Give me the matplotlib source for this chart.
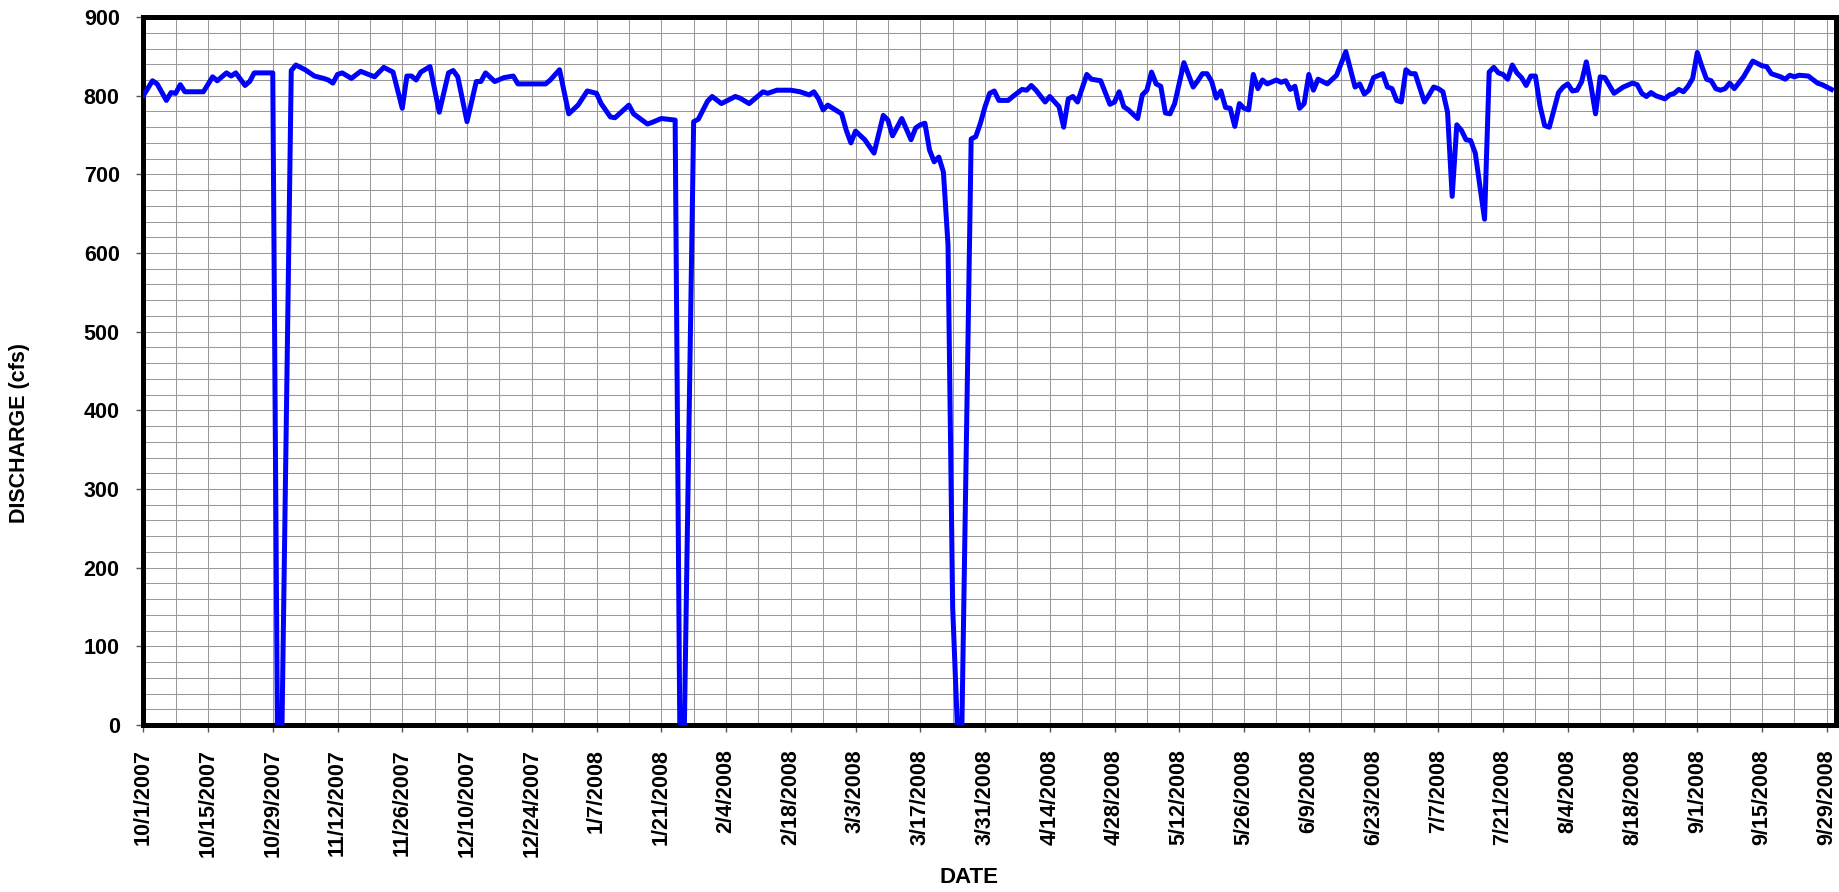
import numpy as np
import pandas as pd
import matplotlib
matplotlib.use("Agg")
import matplotlib.pyplot as plt
import matplotlib.dates as mdates
from matplotlib.ticker import MultipleLocator, FixedLocator

plt.rcParams['font.family'] = ['Liberation Sans', 'DejaVu Sans']

# daily discharge (days since 10/1/2007, cfs)
day_offset = [
    0, 2, 3, 5, 6, 7, 8, 9, 13, 15, 16, 18, 19, 20, 22, 23, 24, 28, 29, 30,
    32, 33, 35, 37, 39, 40, 41, 42, 43, 45, 47, 50, 52, 54, 56, 57, 58, 59, 60, 62,
    64, 66, 67, 68, 70, 72, 73, 74, 76, 78, 80, 81, 87, 88, 90, 92, 94, 96, 98, 99,
    101, 102, 105, 106, 109, 110, 112, 115, 116, 117, 119, 120, 122, 123, 125, 128, 129, 131, 134, 135,
    137, 140, 142, 144, 145, 146, 147, 148, 151, 152, 153, 154, 156, 158, 160, 161, 162, 164, 166, 167,
    168, 169, 170, 171, 172, 173, 174, 175, 176, 177, 179, 180, 181, 182, 183, 184, 185, 187, 188, 190,
    191, 192, 193, 195, 196, 198, 199, 200, 201, 202, 204, 205, 207, 209, 210, 211, 212, 213, 215, 216,
    217, 218, 219, 220, 221, 222, 223, 225, 227, 228, 229, 230, 231, 232, 233, 234, 235, 236, 237, 238,
    239, 240, 241, 242, 243, 245, 246, 247, 248, 249, 250, 251, 252, 253, 254, 256, 258, 260, 262, 263,
    264, 265, 266, 268, 269, 270, 271, 272, 273, 274, 275, 277, 278, 279, 280, 281, 282, 283, 284, 285,
    286, 287, 288, 290, 291, 292, 293, 294, 295, 296, 297, 298, 299, 300, 301, 302, 303, 304, 306, 307,
    308, 309, 310, 311, 312, 313, 314, 315, 316, 318, 319, 320, 322, 323, 324, 325, 326, 327, 329, 330,
    331, 332, 333, 334, 335, 336, 337, 338, 339, 340, 341, 342, 343, 344, 346, 348, 350, 351, 352, 354,
    355, 356, 357, 358, 360, 362, 363, 365,
]
discharge = [
    800, 819, 815, 794, 804, 803, 814, 805, 805, 824, 819, 829, 825, 829, 813, 818, 829, 829, 0, 0,
    832, 839, 833, 825, 822, 820, 816, 827, 829, 822, 831, 824, 836, 830, 784, 825, 825, 820, 830, 837,
    779, 829, 832, 824, 767, 818, 818, 829, 818, 823, 825, 815, 815, 820, 833, 777, 788, 806, 803, 790,
    773, 772, 788, 777, 764, 766, 771, 769, 0, 0, 767, 770, 793, 799, 790, 799, 797, 790, 805, 803,
    807, 807, 805, 801, 805, 796, 782, 788, 777, 756, 740, 755, 744, 727, 775, 769, 749, 771, 744, 759,
    763, 765, 731, 716, 722, 703, 610, 150, 0, 0, 745, 748, 765, 786, 803, 806, 794, 794, 799, 808,
    807, 813, 807, 792, 799, 786, 760, 796, 799, 792, 827, 821, 819, 789, 792, 805, 786, 782, 771, 801,
    807, 830, 815, 812, 778, 777, 790, 842, 811, 819, 828, 828, 818, 797, 806, 785, 784, 761, 790, 784,
    782, 827, 809, 820, 815, 820, 817, 819, 808, 812, 784, 790, 827, 807, 821, 815, 826, 856, 811, 815,
    802, 807, 823, 828, 811, 809, 794, 792, 833, 828, 828, 792, 801, 811, 809, 805, 779, 672, 763, 756,
    744, 743, 727, 643, 830, 836, 829, 827, 821, 839, 829, 823, 813, 825, 825, 787, 762, 760, 804, 811,
    815, 806, 807, 818, 843, 813, 777, 824, 823, 803, 807, 811, 816, 814, 803, 799, 804, 800, 796, 801,
    803, 808, 805, 812, 822, 855, 837, 821, 819, 809, 807, 809, 816, 809, 824, 844, 838, 837, 828, 824,
    821, 826, 824, 826, 825, 816, 814, 808,
]

start = pd.Timestamp("2007-10-01")
dates = start + pd.to_timedelta(day_offset, unit="D")

fig = plt.figure(figsize=(18.39, 8.92), dpi=100)
ax = fig.add_axes([0.0779, 0.1872, 0.9205, 0.7937])

ax.plot(dates, discharge, color="#0000ff", linewidth=3.6, solid_joinstyle="round", zorder=3)

ax.set_xlim(start, pd.Timestamp("2008-10-01"))
ax.set_ylim(0, 900)

# ticks every 14 days, grid every 7 days
major = pd.date_range("2007-10-01", "2008-09-29", freq="14D")
minor = pd.date_range("2007-10-01", "2008-10-01", freq="7D")
ax.xaxis.set_major_locator(FixedLocator(mdates.date2num(major)))
ax.xaxis.set_minor_locator(FixedLocator(mdates.date2num(minor)))
ax.set_xticklabels([f"{d.month}/{d.day}/{d.year}" for d in major],
                   rotation=90, fontsize=15.5, fontweight="bold")

ax.yaxis.set_major_locator(MultipleLocator(100))
ax.yaxis.set_minor_locator(MultipleLocator(20))
for lbl in ax.get_yticklabels():
    lbl.set_fontsize(15.5)
    lbl.set_fontweight("bold")

ax.grid(True, which="both", color="#999999", linewidth=0.75)
ax.set_axisbelow(True)

ax.tick_params(axis="both", which="major", direction="out", length=5, width=1,
               color="#555555")
ax.tick_params(axis="y", which="major", pad=12)
ax.tick_params(axis="x", which="major", pad=12.5)
ax.tick_params(axis="both", which="minor", length=0)

for sp in ax.spines.values():
    sp.set_linewidth(3.6)
    sp.set_color("black")

fig.text(20 / 1839, 0.5146, "DISCHARGE (cfs)", rotation=90, ha="center", va="center",
         fontsize=15.5, fontweight="bold")
fig.text(0.5268, 0.0166, "DATE", ha="center", va="center",
         fontsize=16, fontweight="bold")

fig.savefig("out.png", dpi=100)
